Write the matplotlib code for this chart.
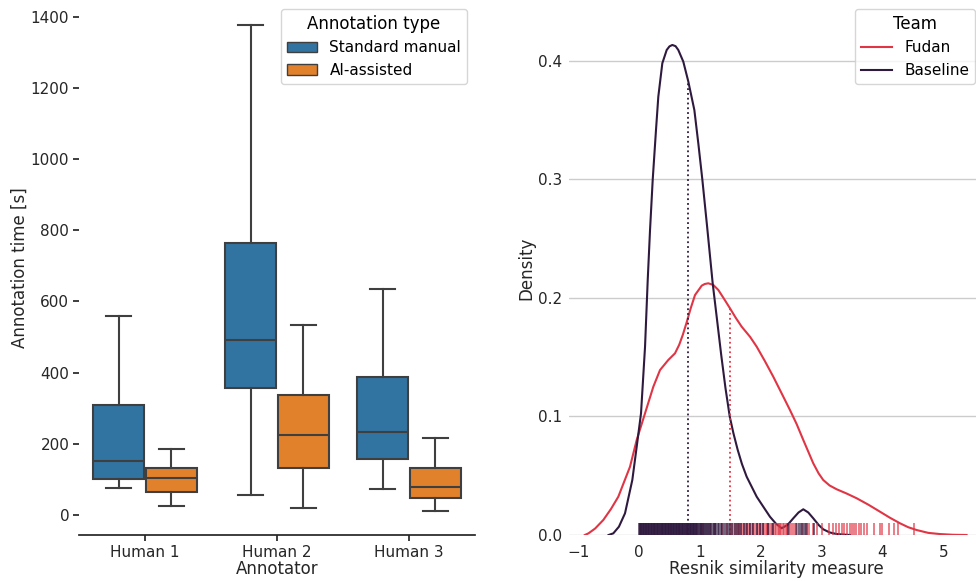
import matplotlib
matplotlib.use("Agg")
import matplotlib.pyplot as plt
import seaborn as sns
from matplotlib.patches import Patch
from matplotlib.lines import Line2D

# ---- left panel: annotation time boxplots ----
annotators = ["Human 1", "Human 2", "Human 3"]
types = ["Standard manual", "AI-assisted"]
# whisker low, q1, median, q3, whisker high
standard_stats = [
    [76, 101, 152, 309, 560],
    [56, 357, 492, 765, 1378],
    [73, 157, 233, 388, 635],
]
ai_stats = [
    [25, 65, 104, 132, 185],
    [20, 132, 225, 337, 534],
    [11, 48, 79, 132, 216],
]

# ---- right panel: density of Resnik similarity (curves) ----
fudan_x = [-0.89, -0.83, -0.72, -0.586, -0.46, -0.34, -0.148, -0.038, 0.099, 0.235, 0.345,
           0.481, 0.591, 0.66, 0.72, 0.783, 0.85, 0.92, 1.03, 1.08, 1.138, 1.22, 1.302,
           1.40, 1.494, 1.586, 1.686, 1.823, 1.933, 2.07, 2.205, 2.34, 2.479, 2.59, 2.698,
           2.862, 2.95, 3.026, 3.13, 3.246, 3.41, 3.575, 3.77, 3.957, 4.12, 4.286, 4.42,
           4.56, 4.75, 4.943, 5.15, 5.38]
fudan_y = [0.0, 0.0014, 0.0055, 0.0127, 0.022, 0.0323, 0.0576, 0.0802, 0.1027, 0.1251,
           0.1392, 0.1477, 0.1533, 0.1605, 0.169, 0.1795, 0.1915, 0.2025, 0.2104, 0.2118,
           0.2124, 0.211, 0.2068, 0.199, 0.1913, 0.1835, 0.1758, 0.1673, 0.1589, 0.1465,
           0.1336, 0.1198, 0.1055, 0.0935, 0.0802, 0.0605, 0.052, 0.0464, 0.0418, 0.0386,
           0.035, 0.031, 0.0255, 0.0197, 0.0146, 0.0099, 0.0066, 0.0042, 0.0018, 0.0008,
           0.0002, 0.0]
baseline_x = [-0.5, -0.422, -0.33, -0.23, -0.11, -0.038, 0.033, 0.099, 0.143, 0.181,
              0.225, 0.279, 0.317, 0.383, 0.455, 0.50, 0.547, 0.60, 0.645, 0.727, 0.81,
              0.909, 0.974, 1.04, 1.117, 1.21, 1.276, 1.35, 1.42, 1.49, 1.55, 1.62, 1.69,
              1.768, 1.933, 2.05, 2.151, 2.25, 2.343, 2.44, 2.534, 2.62, 2.698, 2.78, 2.862,
              2.95, 3.026, 3.13, 3.246, 3.465]
baseline_y = [0.0, 0.0014, 0.007, 0.0183, 0.0464, 0.0745, 0.1027, 0.1589, 0.2152, 0.2574,
              0.2998, 0.3418, 0.3699, 0.3981, 0.4093, 0.4123, 0.4135, 0.4125, 0.4093,
              0.3995, 0.3826, 0.3586, 0.3305, 0.300, 0.261, 0.2124, 0.184, 0.152, 0.124,
              0.100, 0.086, 0.072, 0.060, 0.0492, 0.0323, 0.0232, 0.0154, 0.0095, 0.0057,
              0.0085, 0.0141, 0.019, 0.0217, 0.019, 0.0141, 0.0085, 0.0048, 0.0022, 0.0008,
              0.0]
fudan_median, fudan_median_h = 1.494, 0.1913
baseline_median, baseline_median_h = 0.81, 0.3826

baseline_rug = [0.0, 0.01, 0.02, 0.03, 0.04, 0.05, 0.06, 0.07, 0.08, 0.09, 0.1, 0.11, 0.12,
                0.13, 0.14, 0.15, 0.16, 0.17, 0.18, 0.19, 0.2, 0.21, 0.22, 0.23, 0.24, 0.25,
                0.26, 0.27, 0.28, 0.29, 0.3, 0.31, 0.32, 0.33, 0.34, 0.35, 0.36, 0.37, 0.38,
                0.39, 0.4, 0.41, 0.42, 0.43, 0.44, 0.45, 0.46, 0.47, 0.48, 0.49, 0.5, 0.51,
                0.52, 0.53, 0.54, 0.55, 0.56, 0.57, 0.58, 0.59, 0.6, 0.61, 0.62, 0.63, 0.64,
                0.65, 0.66, 0.67, 0.68, 0.69, 0.7, 0.71, 0.72, 0.73, 0.74, 0.75, 0.76, 0.77,
                0.78, 0.79, 0.8, 0.81, 0.82, 0.83, 0.84, 0.85, 0.86, 0.87, 0.88, 0.89, 0.9,
                0.91, 0.92, 0.93, 0.94, 0.96, 0.97, 0.98, 1.0, 1.01, 1.02, 1.04, 1.05, 1.07,
                1.08, 1.1, 1.12, 1.13, 1.15, 1.17, 1.19, 1.21, 1.23, 1.25, 1.27, 1.3, 1.32,
                1.34, 1.37, 1.4, 1.43, 1.46, 1.5, 1.53, 1.57, 1.61, 1.64, 1.68, 1.72, 1.77,
                1.82, 1.87, 1.93, 1.98, 2.04, 2.12, 2.2, 2.45, 2.58, 2.62, 2.66, 2.7, 2.73,
                2.76, 2.88]
fudan_rug = [0.03, 0.12, 0.25, 0.38, 0.52, 0.66, 0.78, 0.95, 1.05, 1.18, 1.25, 1.36, 1.44,
             1.49, 1.53, 1.56, 1.59, 1.63, 1.65, 1.67, 1.71, 1.74, 1.76, 1.78, 1.81, 1.83,
             1.86, 1.88, 1.9, 1.94, 1.96, 1.99, 2.01, 2.03, 2.06, 2.08, 2.1, 2.12, 2.14,
             2.16, 2.18, 2.2, 2.23, 2.25, 2.28, 2.3, 2.32, 2.34, 2.36, 2.38, 2.41, 2.43,
             2.46, 2.48, 2.52, 2.55, 2.6, 2.68, 2.74, 2.8, 2.86, 2.93, 3.0, 3.12, 3.18, 3.23,
             3.28, 3.33, 3.37, 3.41, 3.46, 3.5, 3.53, 3.57, 3.61, 3.65, 3.7, 3.74, 3.86,
             3.95, 3.99, 4.11, 4.18, 4.26, 4.51]

blue = "#3274a1"
orange = "#e1812c"
line_gray = "#3f3f3f"
fudan_color = "#e03545"
baseline_color = "#2f1a3f"

sns.set_context("notebook")
fig = plt.figure(figsize=(9.76, 5.81), dpi=100)

# left panel
with sns.axes_style("ticks"):
    ax1 = fig.add_axes([79 / 976, 46 / 581, 396 / 976, 534 / 581])

def make_stats(s):
    return dict(whislo=s[0], q1=s[1], med=s[2], q3=s[3], whishi=s[4], fliers=[])

for i in range(len(annotators)):
    for stats, off, col in [(standard_stats[i], -0.2, blue), (ai_stats[i], 0.2, orange)]:
        ax1.bxp([make_stats(stats)], positions=[i + off], widths=0.39, patch_artist=True,
                showfliers=False, manage_ticks=False,
                boxprops=dict(facecolor=col, edgecolor=line_gray, linewidth=1.5),
                medianprops=dict(color=line_gray, linewidth=1.5),
                whiskerprops=dict(color=line_gray, linewidth=1.5),
                capprops=dict(color=line_gray, linewidth=1.5))

ax1.set_xlim(-0.5, 2.5)
ax1.set_ylim(-57, 1445)
ax1.set_xticks(range(len(annotators)))
ax1.set_xticklabels(annotators)
ax1.set_yticks([0, 200, 400, 600, 800, 1000, 1200, 1400])
ax1.tick_params(length=4.5, pad=2.5)
ax1.set_xlabel("Annotator", labelpad=0)
ax1.set_ylabel("Annotation time [s]", labelpad=1.5)
sns.despine(ax=ax1, left=True)
handles = [Patch(facecolor=blue, edgecolor=line_gray, label=types[0]),
           Patch(facecolor=orange, edgecolor=line_gray, label=types[1])]
ax1.legend(handles=handles, title="Annotation type", loc="upper right")

# right panel
with sns.axes_style("whitegrid"):
    ax2 = fig.add_axes([569 / 976, 46 / 581, 414 / 976, 534 / 581])

ax2.plot(fudan_x, fudan_y, color=fudan_color, lw=1.5)
ax2.plot(baseline_x, baseline_y, color=baseline_color, lw=1.5)
ax2.vlines(fudan_median, 0, fudan_median_h, color=fudan_color, linestyle=":", lw=1.3)
ax2.vlines(baseline_median, 0, baseline_median_h, color=baseline_color, linestyle=":", lw=1.3)
trans = ax2.get_xaxis_transform()
ax2.vlines(fudan_rug, 0, 0.022, transform=trans, color=fudan_color, lw=1.2, alpha=0.75)
ax2.vlines(baseline_rug, 0, 0.022, transform=trans, color=baseline_color, lw=1.2, alpha=0.8)

ax2.set_xlim(-1.15, 5.65)
ax2.set_ylim(0, 0.4506)
ax2.set_yticks([0.0, 0.1, 0.2, 0.3, 0.4])
ax2.set_xticks([-1, 0, 1, 2, 3, 4, 5])
ax2.tick_params(axis="x", length=0, pad=7)
ax2.tick_params(axis="y", length=0, pad=5)
ax2.grid(axis="x", visible=False)
ax2.set_xlabel("Resnik similarity measure", labelpad=0)
ax2.set_ylabel("Density", labelpad=2)
sns.despine(ax=ax2, left=True, bottom=True)
leg_lines = [Line2D([], [], color=fudan_color, lw=1.5, label="Fudan"),
             Line2D([], [], color=baseline_color, lw=1.5, label="Baseline")]
ax2.legend(handles=leg_lines, title="Team", loc="upper right")

fig.savefig("out.png", dpi=100)
